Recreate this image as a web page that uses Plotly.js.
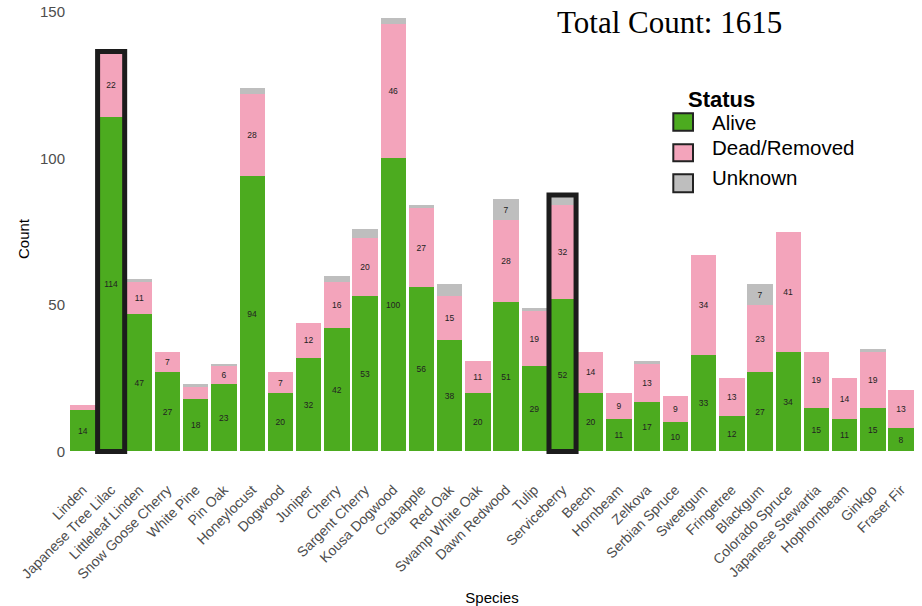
<!DOCTYPE html>
<html>
<head>
<meta charset="utf-8">
<script src="https://cdn.plot.ly/plotly-3.0.1.min.js"></script>
<style>
html,body{margin:0;padding:0;background:#fff;}
#chart{width:922px;height:606px;}
</style>
</head>
<body>
<div id="chart"></div>
<script>
// ---- data ----
const species = ["Linden","Japanese Tree Lilac","Littleleaf Linden","Snow Goose Cherry","White Pine","Pin Oak","Honeylocust","Dogwood","Juniper","Cherry","Sargent Cherry","Kousa Dogwood","Crabapple","Red Oak","Swamp White Oak","Dawn Redwood","Tulip","Serviceberry","Beech","Hornbeam","Zelkova","Serbian Spruce","Sweetgum","Fringetree","Blackgum","Colorado Spruce","Japanese Stewartia","Hophornbeam","Ginkgo","Fraser Fir"];
const alive   = [14,114,47,27,18,23,94,20,32,42,53,100,56,38,20,51,29,52,20,11,17,10,33,12,27,34,15,11,15,8];
const dead    = [2,22,11,7,4,6,28,7,12,16,20,46,27,15,11,28,19,32,14,9,13,9,34,13,23,41,19,14,19,13];
const unknown = [0,0,1,0,1,1,2,0,0,2,3,2,1,4,0,7,1,3,0,0,1,0,0,0,7,0,0,0,1,0];
const statusNames = ["Alive","Dead/Removed","Unknown"];
const highlighted = ["Japanese Tree Lilac","Serviceberry"];
const totalCount = 1615;
const yTicks = [0,50,100,150];

// ---- styling ----
const colors = ["#4CAB1F","#F3A4BB","#BEBEBE"];
const W = 922, H = 606;
const M = {l:66, r:4, t:6, b:134};
const px2x = p => (p - M.l) / (W - M.l - M.r);
const py2y = p => (H - M.b - p) / (H - M.t - M.b);

function labels(arr){ return arr.map(v => v >= 5 ? String(v) : ""); }

const series = [alive, dead, unknown];
const traces = series.map((vals, i) => ({
  type: "bar",
  name: statusNames[i],
  x: species,
  y: vals,
  marker: {color: colors[i], line: {width: 0}},
  text: labels(vals),
  texttemplate: "%{text}",
  textposition: "inside",
  insidetextanchor: "middle",
  textangle: 0,
  textfont: {family: "Liberation Sans, Arial, sans-serif", size: 8.5, color: "#222"},
  hoverinfo: "x+y+name",
  showlegend: false
}));

const totals = species.map((s, i) => alive[i] + dead[i] + unknown[i]);

const shapes = highlighted.map(name => {
  const i = species.indexOf(name);
  return {
    type: "rect", xref: "x", yref: "y",
    x0: i - 0.48, x1: i + 0.48, y0: 0, y1: totals[i] + 0.5,
    line: {color: "#1c1c1c", width: 5}, fillcolor: "rgba(0,0,0,0)", layer: "above"
  };
});

// custom legend (squares with dark borders)
const legendSq = [[113.3,130.7],[144.3,161.3],[174.3,192.3]];
const legendTextY = [122, 147, 177];
legendSq.forEach((r, i) => {
  shapes.push({
    type: "rect", xref: "paper", yref: "paper",
    x0: px2x(673.3), x1: px2x(693), y0: py2y(r[1]), y1: py2y(r[0]),
    fillcolor: colors[i], line: {color: "#222", width: 2}
  });
});

const annotations = [
  {text: "Total Count: " + totalCount, xref: "paper", yref: "paper",
   x: px2x(669), y: py2y(22), xanchor: "center", yanchor: "middle", showarrow: false,
   font: {family: "Liberation Serif, Times New Roman, serif", size: 31, color: "#000"}},
  {text: "<b>Status</b>", xref: "paper", yref: "paper",
   x: px2x(721.5), y: py2y(99), xanchor: "center", yanchor: "middle", showarrow: false,
   font: {family: "Liberation Sans, Arial, sans-serif", size: 22, color: "#000"}}
];
statusNames.forEach((n, i) => {
  annotations.push({text: n, xref: "paper", yref: "paper",
    x: px2x(710), y: py2y(legendTextY[i]), xanchor: "left", yanchor: "middle", showarrow: false,
    font: {family: "Liberation Sans, Arial, sans-serif", size: 20.5, color: "#000"}});
});

const layout = {
  width: W, height: H,
  margin: M,
  barmode: "stack",
  bargap: 0.1,
  paper_bgcolor: "#fff",
  plot_bgcolor: "#fff",
  showlegend: false,
  font: {family: "Liberation Sans, Arial, sans-serif"},
  xaxis: {
    type: "category",
    categoryorder: "array", categoryarray: species,
    range: [-0.6, species.length - 0.4],
    tickangle: -45,
    tickfont: {size: 14, color: "#4d4d4d"},
    ticklabelstandoff: 6,
    showgrid: false, zeroline: false, showline: false, ticks: "",
    automargin: false,
    title: {text: "Species", font: {size: 15, color: "#000"}, standoff: 11}
  },
  yaxis: {
    range: [-7, 152],
    tickvals: yTicks,
    ticktext: yTicks.map(String),
    tickfont: {size: 15, color: "#4d4d4d"},
    showgrid: false, zeroline: false, showline: false, ticks: "",
    automargin: false,
    title: {text: "Count", font: {size: 15, color: "#000"}, standoff: 6}
  },
  shapes: shapes,
  annotations: annotations
};

Plotly.newPlot("chart", traces, layout, {displayModeBar: false, staticPlot: true});
</script>
</body>
</html>
